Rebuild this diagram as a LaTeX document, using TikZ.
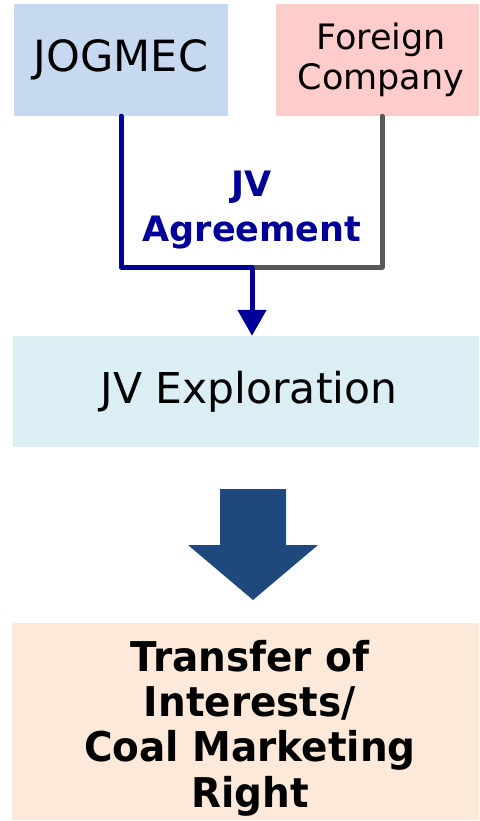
\documentclass[tikz,border=0pt]{standalone}
\usepackage{fontspec}
\setmainfont{DejaVu Sans}
\newfontfamily\tbf[FakeStretch=0.95]{DejaVu Sans}
\usetikzlibrary{arrows.meta}
\definecolor{jogc}{HTML}{C6D9F0}
\definecolor{forc}{HTML}{FFCCCC}
\definecolor{expc}{HTML}{DAEEF3}
\definecolor{trc}{HTML}{FDE9D9}
\definecolor{arrc}{HTML}{1F497D}
\definecolor{jvblue}{HTML}{000099}
\definecolor{jvgray}{HTML}{595959}
\tikzset{
  box/.style={rectangle, inner sep=0pt, align=center, text=black},
  conn/.style={line width=5pt, line cap=round, line join=round},
}
\begin{document}
\begin{tikzpicture}[x=1pt,y=-1pt]
\fill[white] (0,0) rectangle (479,821);
\useasboundingbox (0,0) rectangle (479,821);
\node[box, fill=jogc, minimum width=214pt, minimum height=112pt, font=\fontsize{43}{46}\selectfont] (jog) at (121,60) {JOGMEC};
\node[box, fill=forc, minimum width=203pt, minimum height=112pt, font=\fontsize{35}{40}\selectfont] (for) at (377.5,60) {\hspace*{7pt}Foreign\\\hspace*{7pt}Company};
\node[box, fill=expc, minimum width=466pt, minimum height=111pt, font=\fontsize{42.5}{46}\selectfont] (expl) at (246,391.5) {\hspace*{6pt}JV Exploration};
\node[box, fill=trc, minimum width=467pt, minimum height=197pt] (tr) at (245.5,721.5) {};
\node[box, font=\tbf\bfseries\fontsize{41}{45.3}\selectfont] (trt) at (250,728) {Transfer of\\Interests/\\Coal Marketing\\Right};
\coordinate (m) at (252,267);
\node[box, text=jvblue, font=\bfseries\fontsize{35}{45}\selectfont] (jva) at (252,210) {JV\\Agreement};
\draw[conn, jvgray] ([xshift=4.5pt]for.south) |- (m);
\draw[conn, jvblue] (jog.south) |- (m);
\draw[line width=5pt, jvblue, -{Triangle[length=26pt,width=28pt]}] (m) -- (m |- expl.north);
\fill[arrc] (220,489) -- (286,489) -- (286,545) -- (318,545) -- (253,600) -- (188,545) -- (220,545) -- cycle;
\end{tikzpicture}
\end{document}
